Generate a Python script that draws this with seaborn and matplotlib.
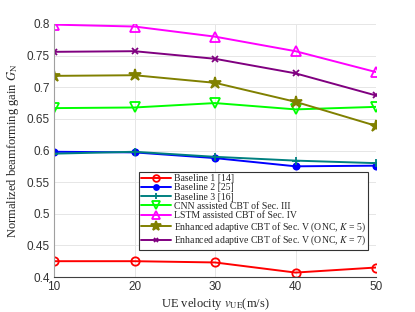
import matplotlib
matplotlib.use("Agg")
import matplotlib.pyplot as plt
import seaborn as sns
import pandas as pd

velocity = [10, 20, 30, 40, 50]
baseline1 = [0.425, 0.425, 0.423, 0.407, 0.415]
baseline2 = [0.598, 0.597, 0.588, 0.575, 0.576]
baseline3 = [0.595, 0.598, 0.590, 0.584, 0.580]
cnn = [0.667, 0.668, 0.675, 0.665, 0.669]
lstm = [0.799, 0.796, 0.780, 0.757, 0.724]
enh_k5 = [0.718, 0.719, 0.707, 0.677, 0.639]
enh_k7 = [0.756, 0.757, 0.745, 0.722, 0.687]

labels = ["Baseline 1 [14]", "Baseline 2 [25]", "Baseline 3 [16]",
          "CNN assisted CBT of Sec. III", "LSTM assisted CBT of Sec. IV",
          "Enhanced adaptive CBT of Sec. V (ONC, $K$ = 5)",
          "Enhanced adaptive CBT of Sec. V (ONC, $K$ = 7)"]
series = [baseline1, baseline2, baseline3, cnn, lstm, enh_k5, enh_k7]
colors = ["#ff0000", "#0000ff", "#008080", "#00ff00", "#ff00ff", "#808000", "#800080"]
markers = ["o", "o", "+", "v", "^", "*", "x"]
mfc = ["none", "#0000ff", "none", "none", "none", "#808000", "none"]
msizes = [6, 4.5, 6, 7, 7, 9, 4]

sns.set_style("whitegrid")
plt.rcParams['mathtext.fontset'] = 'stix'

fig = plt.figure(figsize=(4.15, 3.12), dpi=100)
ax = fig.add_axes([54/415, 1-277/312, (376-54)/415, (277-24)/312])

for lab, vals, c, m, fc, ms in zip(labels, series, colors, markers, mfc, msizes):
    df = pd.DataFrame({"v": velocity, "g": vals})
    sns.lineplot(data=df, x="v", y="g", ax=ax, color=c, marker=m, markersize=ms,
                 markerfacecolor=fc, markeredgecolor=c, markeredgewidth=1.3,
                 linewidth=1.4, label=lab)

ax.set_xlim(10, 50)
ax.set_ylim(0.4, 0.8)
ax.set_xticks([10, 20, 30, 40, 50])
ax.set_yticks([0.4, 0.45, 0.5, 0.55, 0.6, 0.65, 0.7, 0.75, 0.8])
ax.set_yticklabels(["0.4", "0.45", "0.5", "0.55", "0.6", "0.65", "0.7", "0.75", "0.8"])
ax.tick_params(labelsize=8.5, colors="#333333", length=0, pad=3)
for t in ax.get_xticklabels() + ax.get_yticklabels():
    t.set_family("Liberation Sans")
ax.grid(True, color="#e6e6e6", linewidth=0.7)
for s in ax.spines.values():
    s.set_visible(False)
ax.spines['left'].set_visible(True)
ax.spines['left'].set_color("#a0a0a0")
ax.spines['bottom'].set_visible(True)
ax.spines['bottom'].set_color("#404040")
ax.spines['bottom'].set_linewidth(0.8)

ax.set_xlabel(r"UE velocity $v_{\mathrm{UE}}$(m/s)", family="Liberation Serif", fontsize=9, labelpad=2)
ax.set_ylabel(r"Normalized beamforming gain $G_{\mathrm{N}}$", family="Liberation Serif", fontsize=9, labelpad=4)

leg = ax.legend(loc="lower right", bbox_to_anchor=(0.99, 0.088), prop={"family": "Liberation Serif", "size": 7},
                frameon=True, fancybox=False, edgecolor="#333333", framealpha=1, markerscale=0.8,
                handlelength=3, handletextpad=0.3, labelspacing=0.02, borderpad=0.25)
leg.get_frame().set_linewidth(0.8)

fig.savefig("out.png", dpi=100)
